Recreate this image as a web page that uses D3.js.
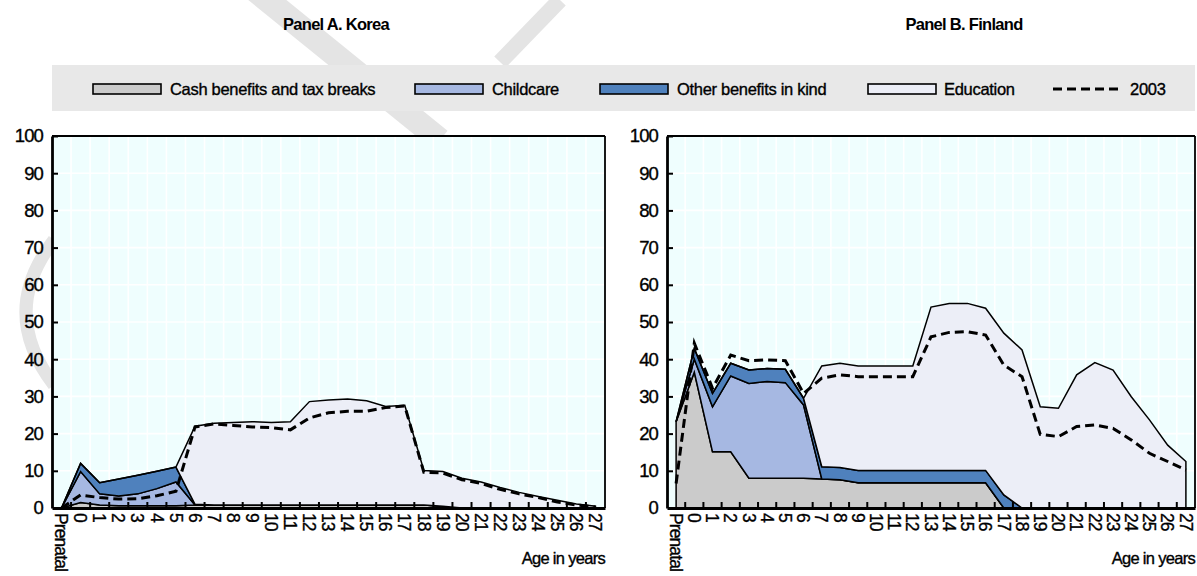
<!DOCTYPE html>
<html>
<head>
<meta charset="utf-8">
<script src="https://cdn.jsdelivr.net/npm/d3@7"></script>
<style>
  body { margin: 0; background: #ffffff; }
  svg text { font-family: "Liberation Sans", Arial, sans-serif; fill: #000; }
</style>
</head>
<body>
<svg id="chart" width="1197" height="576"></svg>
<script>
// Age categories on the horizontal axis
const ages = ["Prenatal","0","1","2","3","4","5","6","7","8","9","10","11","12","13",
              "14","15","16","17","18","19","20","21","22","23","24","25","26","27"];

// Series names (stack order, bottom to top)
const seriesNames = ["Cash benefits and tax breaks", "Childcare", "Other benefits in kind", "Education"];
const lineName = "2003";

// Korea: spending by age, % of median working-age household income
const koreaCash      = [0,1.5,0.8,0.6,0.6,0.6,0.6,0.8,0.8,0.8,0.8,0.8,0.8,0.8,0.8,0.8,0.8,0.8,0.8,0.8,0.5,0,0,0,0,0,0,0,0];
const koreaChildcare = [0,8.3,3.0,2.6,3.2,4.6,6.4,0,0,0,0,0,0,0,0,0,0,0,0,0,0,0,0,0,0,0,0,0,0];
const koreaOther     = [0,2.2,3.0,4.6,5.0,4.7,4.0,0.2,0,0,0,0,0,0,0,0,0,0,0,0,0,0,0,0,0,0,0,0,0];
const koreaEducation = [0,0,0,0,0,0,0,21.0,22.0,22.2,22.4,22.2,22.4,27.8,28.2,28.5,28.0,26.5,26.8,
                        9.3,9.3,8.0,7.0,5.5,4.2,3.1,2.1,1.1,0.5];
const korea2003      = [0,3.5,2.8,2.4,2.5,3.3,4.5,21.8,22.6,22.2,21.8,21.6,21.0,24.2,25.6,26.0,26.0,27.0,27.4,
                        9.6,9.4,7.6,6.6,5.0,3.8,2.8,1.6,0.8,0.3];

// Finland
const finlandCash      = [23.2,36.5,15.1,15.1,8.0,8.0,8.0,8.0,7.8,7.6,6.8,6.8,6.8,6.8,6.8,6.8,6.8,6.8,0,0,0,0,0,0,0,0,0,0,0];
const finlandChildcare = [0,3.5,12.1,20.4,25.5,26.0,25.7,19.7,0,0,0,0,0,0,0,0,0,0,0,0,0,0,0,0,0,0,0,0,0];
const finlandOther     = [0,2.9,3.6,3.4,3.6,3.5,3.6,1.8,3.3,3.3,3.3,3.3,3.3,3.3,3.3,3.3,3.3,3.3,3.5,0,0,0,0,0,0,0,0,0,0];
const finlandEducation = [0,0,0,0,0,0,0,0,27.1,28.0,28.1,28.1,28.1,28.1,43.9,44.9,44.9,43.6,43.5,42.5,
                          27.2,26.8,35.8,39.1,37.1,29.9,23.7,16.9,12.5];
const finland2003      = [6.6,44.3,32.2,41.1,39.6,39.8,39.6,30.8,34.9,35.8,35.3,35.3,35.3,35.3,46.0,47.2,47.4,46.5,
                          38.4,35.3,19.8,19.2,21.9,22.3,21.4,18.3,14.7,12.5,10.2];

// Value axis ticks
const yTicks = [0,10,20,30,40,50,60,70,80,90,100];

// Panel titles
const panelTitles = ["Panel A. Korea", "Panel B. Finland"];
const axisTitle = "Age in years";

// ---------------------------------------------------------------------------
const colors = ["#cbcbcb", "#a6b8e2", "#4f81bd", "#eceef7"];
const keys = ["cash", "childcare", "other", "education"];
const FONT = '"Liberation Sans", Arial, sans-serif';

const svg = d3.select("#chart");

// Faint background watermark strokes
const wm = svg.append("g").attr("fill", "none").attr("stroke", "#e4e4e4")
  .attr("stroke-linecap", "butt");
wm.append("path").attr("d", "M 255 -10 L 440 140").attr("stroke-width", 24);
wm.append("path").attr("d", "M 560 0 L 500 62").attr("stroke-width", 16);
wm.append("path").attr("d", "M 54 240 Q -2 312 54 385").attr("stroke-width", 13);

function buildRows(cash, childcare, other, education) {
  return ages.map((age, i) => ({
    age, cash: cash[i], childcare: childcare[i], other: other[i], education: education[i]
  }));
}

const panels = [
  { title: panelTitles[0], titleX: 336, left: 52, right: 605,
    rows: buildRows(koreaCash, koreaChildcare, koreaOther, koreaEducation), line: korea2003 },
  { title: panelTitles[1], titleX: 964, left: 667, right: 1195,
    rows: buildRows(finlandCash, finlandChildcare, finlandOther, finlandEducation), line: finland2003 }
];

const plotTop = 136, plotBottom = 508;

// Legend band
const legend = svg.append("g");
legend.append("rect")
  .attr("x", 52).attr("y", 65).attr("width", 1143).attr("height", 46)
  .attr("fill", "#e8e8e8");

const legendItems = [
  { name: seriesNames[0], sx: 93,  tx: 170, color: colors[0] },
  { name: seriesNames[1], sx: 415, tx: 492, color: colors[1] },
  { name: seriesNames[2], sx: 600, tx: 677, color: colors[2] },
  { name: seriesNames[3], sx: 868, tx: 944, color: colors[3] }
];
const textStyle = sel => sel.attr("stroke", "#000").attr("stroke-width", 0.35);

legendItems.forEach(it => {
  legend.append("rect")
    .attr("x", it.sx).attr("y", 84).attr("width", 68).attr("height", 10)
    .attr("fill", it.color).attr("stroke", "#000").attr("stroke-width", 1.6);
  legend.append("text")
    .attr("x", it.tx).attr("y", 95)
    .attr("font-size", 16.5).attr("letter-spacing", -0.3)
    .call(textStyle)
    .text(it.name);
});
legend.append("line")
  .attr("x1", 1053).attr("x2", 1122).attr("y1", 89).attr("y2", 89)
  .attr("stroke", "#000").attr("stroke-width", 3).attr("stroke-dasharray", "9,5");
legend.append("text")
  .attr("x", 1130).attr("y", 95)
  .attr("font-size", 16.5).attr("letter-spacing", -0.3)
  .call(textStyle)
  .text(lineName);

const stack = d3.stack().keys(keys);

panels.forEach(p => {
  const g = svg.append("g");

  const x = d3.scaleBand().domain(ages).range([p.left, p.right]);
  const xc = a => x(a) + x.bandwidth() / 2;
  const y = d3.scaleLinear().domain([0, 100]).range([plotBottom, plotTop]);

  // Title
  svg.append("text")
    .attr("x", p.titleX).attr("y", 30)
    .attr("text-anchor", "middle")
    .attr("font-size", 16.5).attr("font-weight", "bold").attr("letter-spacing", -0.7)
    .text(p.title);

  // Plot background
  g.append("rect")
    .attr("x", p.left).attr("y", plotTop)
    .attr("width", p.right - p.left).attr("height", plotBottom - plotTop)
    .attr("fill", "#effefe");

  // White gridlines
  g.append("g").selectAll("line").data(yTicks.slice(1, -1)).join("line")
    .attr("x1", p.left).attr("x2", p.right)
    .attr("y1", d => y(d)).attr("y2", d => y(d))
    .attr("stroke", "#ffffff").attr("stroke-width", 1.6);
  g.append("g").selectAll("line").data(ages.slice(1)).join("line")
    .attr("x1", d => x(d)).attr("x2", d => x(d))
    .attr("y1", plotTop).attr("y2", plotBottom)
    .attr("stroke", "#ffffff").attr("stroke-width", 1.6);

  // Stacked areas
  const series = stack(p.rows);
  const area = d3.area()
    .x(d => xc(d.data.age))
    .y0(d => y(d[0]))
    .y1(d => y(d[1]));
  g.append("g").selectAll("path").data(series).join("path")
    .attr("d", area)
    .attr("fill", (d, i) => colors[i])
    .attr("stroke", "#000")
    .attr("stroke-width", 1.5)
    .attr("stroke-linejoin", "miter");

  // 2003 total (dashed)
  const line = d3.line()
    .x((d, i) => xc(ages[i]))
    .y(d => y(d));
  g.append("path")
    .datum(p.line)
    .attr("d", line)
    .attr("fill", "none")
    .attr("stroke", "#000")
    .attr("stroke-width", 3)
    .attr("stroke-dasharray", "9,5");

  // Frame
  g.append("line").attr("x1", p.left).attr("x2", p.right).attr("y1", plotTop).attr("y2", plotTop)
    .attr("stroke", "#000").attr("stroke-width", 1.8);
  g.append("line").attr("x1", p.right).attr("x2", p.right).attr("y1", plotTop).attr("y2", plotBottom)
    .attr("stroke", "#000").attr("stroke-width", 1.8);

  // Y axis: inward ticks, labels on the left
  const yAxis = d3.axisLeft(y).tickValues(yTicks).tickSize(-6).tickPadding(9).tickSizeOuter(0);
  const ya = g.append("g").attr("transform", `translate(${p.left},0)`).call(yAxis);
  ya.select(".domain").attr("stroke", "#000").attr("stroke-width", 2.8);
  ya.selectAll(".tick line").attr("stroke", "#000").attr("stroke-width", 2);
  ya.selectAll(".tick text")
    .attr("font-family", FONT).attr("font-size", 18.5).attr("letter-spacing", -0.9)
    .attr("fill", "#000").call(textStyle);
  ya.selectAll(".tick").filter(d => d === 0).select("line").remove();

  // X axis: inward ticks at category edges, rotated labels
  const xAxis = d3.axisBottom(x).tickSize(0).tickSizeOuter(0).tickFormat("");
  const xa = g.append("g").attr("transform", `translate(0,${plotBottom})`).call(xAxis);
  xa.select(".domain").attr("stroke", "#000").attr("stroke-width", 2.8);
  xa.selectAll(".tick").remove();
  g.append("g").selectAll("line").data(ages.slice(1)).join("line")
    .attr("x1", d => x(d)).attr("x2", d => x(d))
    .attr("y1", plotBottom).attr("y2", plotBottom - 6)
    .attr("stroke", "#000").attr("stroke-width", 2);
  g.append("g").selectAll("text").data(ages).join("text")
    .attr("transform", d => `translate(${xc(d)},${plotBottom + 5}) rotate(90)`)
    .attr("dy", "0.36em")
    .attr("font-size", 17.5).attr("letter-spacing", -0.9)
    .call(textStyle)
    .text(d => d);

  // Axis title
  g.append("text")
    .attr("x", p.right).attr("y", 564)
    .attr("text-anchor", "end")
    .attr("font-size", 16.5).attr("letter-spacing", -0.7)
    .call(textStyle)
    .text(axisTitle);
});
</script>
</body>
</html>
